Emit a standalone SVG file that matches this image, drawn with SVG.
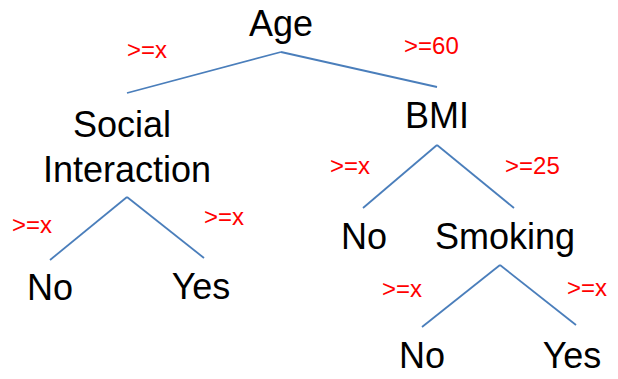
<svg xmlns="http://www.w3.org/2000/svg" width="618" height="379" viewBox="0 0 618 379">
<style>
.n{font-family:"Liberation Sans",Arial,sans-serif;font-size:36px;fill:#000;text-anchor:middle}
.c{font-family:"Liberation Sans",Arial,sans-serif;font-size:24px;fill:#ff0000}
.e line{stroke:#4a7ebb;stroke-width:1.8;fill:none}
</style>
<rect width="618" height="379" fill="#fff"/>
<g id="connectors" class="e">
<line x1="281" y1="52" x2="127" y2="93"/>
<line x1="281" y1="52" x2="437" y2="87"/>
<line x1="437" y1="145" x2="363" y2="208"/>
<line x1="437" y1="145" x2="514" y2="208"/>
<line x1="127" y1="197" x2="50" y2="260"/>
<line x1="127" y1="197" x2="204" y2="258"/>
<line x1="500" y1="265" x2="422" y2="327"/>
<line x1="500" y1="265" x2="576" y2="325"/>
</g>
<g id="edge-labels">
<text class="c" x="127" y="58">&gt;=x</text>
<text class="c" x="404" y="54">&gt;=60</text>
<text class="c" x="330" y="174">&gt;=x</text>
<text class="c" x="505" y="174">&gt;=25</text>
<text class="c" x="12" y="233">&gt;=x</text>
<text class="c" x="204" y="225">&gt;=x</text>
<text class="c" x="382" y="297">&gt;=x</text>
<text class="c" x="567" y="296">&gt;=x</text>
</g>
<g id="age"><text class="n" x="281" y="36">Age</text></g>
<g id="social"><text class="n" x="122" y="137">Social</text><text class="n" x="127" y="182">Interaction</text></g>
<g id="bmi"><text class="n" x="437" y="128">BMI</text></g>
<g id="no1"><text class="n" x="50" y="300">No</text></g>
<g id="yes1"><text class="n" x="201" y="299">Yes</text></g>
<g id="no2"><text class="n" x="364" y="249">No</text></g>
<g id="smoking"><text class="n" x="505" y="249">Smoking</text></g>
<g id="no3"><text class="n" x="422" y="368">No</text></g>
<g id="yes3"><text class="n" x="572" y="368">Yes</text></g>
</svg>
